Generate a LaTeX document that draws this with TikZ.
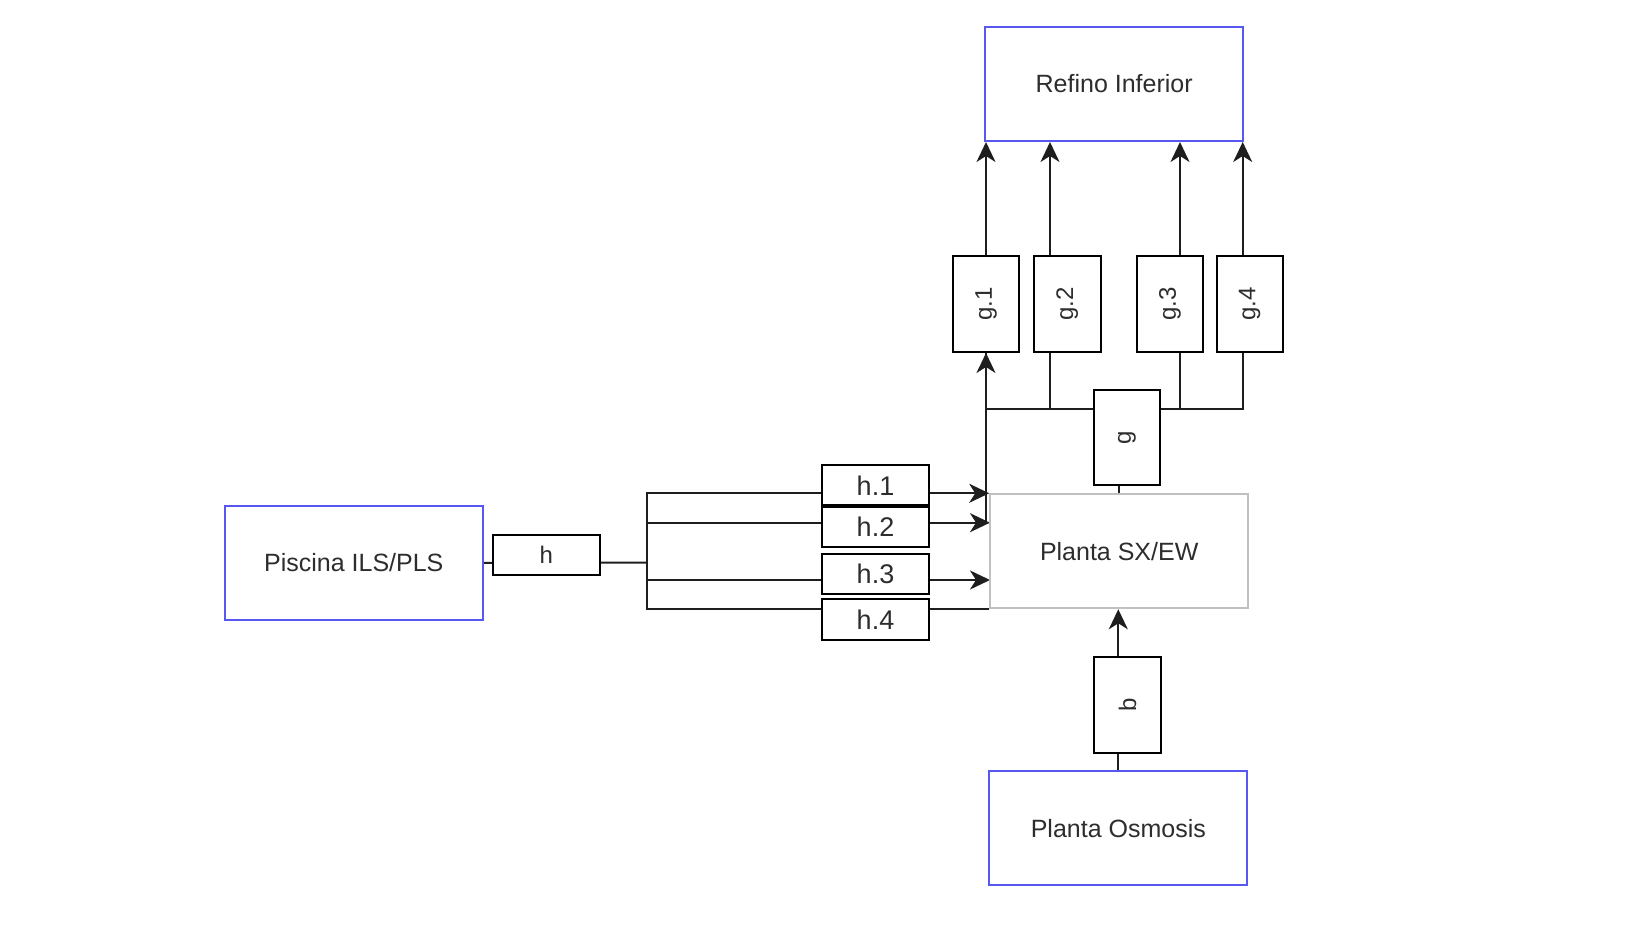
\documentclass[tikz,border=0pt]{standalone}
\usepackage{fontspec}
\setmainfont{Liberation Sans}
\usetikzlibrary{arrows.meta,backgrounds}
\definecolor{boxblue}{RGB}{88,88,240}
\definecolor{boxgray}{RGB}{192,192,192}
\definecolor{txt}{RGB}{45,45,45}
\definecolor{wire}{RGB}{30,30,30}
\begin{document}
\begin{tikzpicture}[x=0.5pt,y=-0.5pt,
  unit/.style={draw=boxblue,line width=1pt,fill=white,inner sep=0pt,
    minimum width=129pt,minimum height=57pt,text=txt,font=\fontsize{12.5pt}{14pt}\selectfont},
  plant/.style={unit,draw=boxgray},
  vstream/.style={draw=black,line width=1pt,fill=white,inner sep=0pt,
    minimum width=33.2pt,minimum height=48pt,text=txt,
    font=\fontsize{12pt}{14pt}\selectfont},
  hstream/.style={draw=black,line width=1pt,fill=white,inner sep=0pt,
    minimum width=53.8pt,minimum height=20pt,text=txt,
    font=\fontsize{13.5pt}{15pt}\selectfont},
  wireline/.style={draw=wire,line width=1pt},
  flow/.style={wireline,-{Stealth[length=10pt,width=9.5pt,inset=3pt]}}]
\useasboundingbox (0,0) rectangle (1640,929);

% main units
\node[unit]  (refino)  at (1114.2,84)  {Refino Inferior};
\node[plant] (planta)  at (1119.2,551.3) {Planta SX/EW};
\node[unit]  (osmosis) at (1118.3,828.3) {Planta Osmosis};
\node[unit]  (piscina) at (353.8,562.8) {Piscina ILS/PLS};

% stream labels, vertical
\node[vstream] (g1) at (986,304)    {\rotatebox{90}{g.1}};
\node[vstream] (g2) at (1067.3,304) {\rotatebox{90}{g.2}};
\node[vstream] (g3) at (1170,304)   {\rotatebox{90}{g.3}};
\node[vstream] (g4) at (1249.7,304) {\rotatebox{90}{g.4}};
\node[vstream,minimum height=47.5pt] (g) at (1127,437.5) {\rotatebox{90}{g}};
\node[vstream] (b) at (1127.5,704.7) {\rotatebox{90}{b}};

% stream labels, horizontal
\node[hstream,font=\fontsize{12pt}{14pt}\selectfont] (h) at (546.3,555) {h};
\node[hstream] (h1) at (875.5,485.3) {h.1};
\node[hstream] (h2) at (875.5,527)   {h.2};
\node[hstream] (h3) at (875.5,573.7) {h.3};
\node[hstream,minimum height=20.4pt] (h4) at (875.5,619.7) {h.4};

% routing points
\coordinate (split) at (646.7,562.7);
\coordinate (p2) at (990,522.7);
\coordinate (p3) at (990,580);
\coordinate (bus) at (0,409);
\coordinate (lane2) at (1050,0);
\coordinate (lane3) at (1180,0);
\coordinate (lane4) at (1242.7,0);

\begin{scope}[on background layer]
  % feed split to the SX/EW plant
  \draw[wireline] (piscina.east) -- (split);
  \draw[flow] (split) |- (planta.north west);
  \draw[flow] (split) |- (p2);
  \draw[flow] (split) |- (p3);
  \draw[wireline] (split) |- (planta.south west);

  % raffinate to the g streams
  \draw[wireline] (planta.north) -- (planta.north |- g.south);
  \draw[flow] (g1.south |- p2) -- (g1.south);
  \draw[wireline] (g.west |- bus) -| (g1.south);
  \draw[wireline] (g.west |- bus) -| (lane2 |- g2.south);
  \draw[wireline] (g.east |- bus) -| (lane3 |- g3.south);
  \draw[wireline] (g.east |- bus) -| (lane4 |- g4.south);

  % g streams to Refino Inferior
  \draw[flow] (g1.north) -- (g1.north |- refino.south);
  \draw[flow] (lane2 |- g2.north) -- (lane2 |- refino.south);
  \draw[flow] (lane3 |- g3.north) -- (lane3 |- refino.south);
  \draw[flow] (lane4 |- g4.north) -- (lane4 |- refino.south);

  % osmosis water
  \draw[flow] (osmosis.north) -- (osmosis.north |- planta.south);
\end{scope}
\end{tikzpicture}
\end{document}
